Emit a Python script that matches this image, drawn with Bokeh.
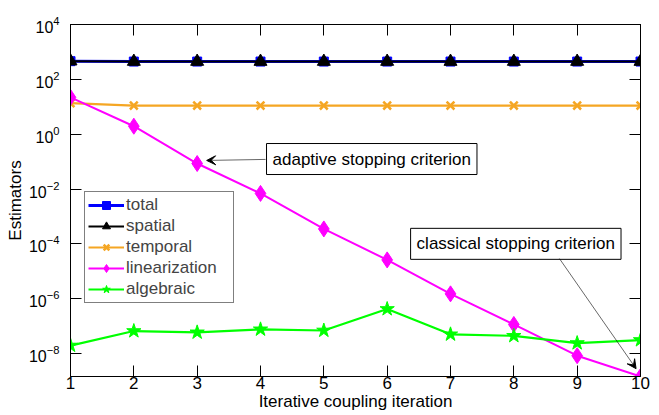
from bokeh.plotting import figure
from bokeh.models import (Range1d, FixedTicker, LinearAxis, LogAxis, Label, Arrow,
                          VeeHead, Legend)
from bokeh.embed import file_html
from bokeh.resources import INLINE

# ---- data ----
iterations = [1, 2, 3, 4, 5, 6, 7, 8, 9, 10]
total = [460, 445, 445, 445, 445, 445, 445, 445, 445, 445]
spatial = [460, 445, 445, 445, 445, 445, 445, 445, 445, 445]
temporal = [13.5, 11, 11, 11, 11, 11, 11, 11, 11, 11]
linearization = [22, 1.95, 0.085, 0.0069, 3.5e-4, 2.6e-5, 1.5e-6, 1.15e-7, 8.3e-9, 1.45e-9]
algebraic = [1.95e-8, 6.6e-8, 5.9e-8, 7.6e-8, 6.9e-8, 4.2e-7, 5.0e-8, 4.4e-8, 2.4e-8, 3.1e-8]
x_ticks = [1, 2, 3, 4, 5, 6, 7, 8, 9, 10]
y_ticks = [1e-8, 1e-6, 1e-4, 1e-2, 1e0, 1e2, 1e4]
x_title = "Iterative coupling iteration"
y_title = "Estimators"

FONT = "Liberation Sans"

p = figure(width=659, height=415, output_backend="svg", toolbar_location=None,
           y_axis_type="log", x_range=Range1d(1, 10), y_range=Range1d(1.45e-9, 1e4),
           min_border_left=70, min_border_right=19, min_border_top=24, min_border_bottom=39)
p.xgrid.visible = False
p.ygrid.visible = False
p.outline_line_color = "black"
p.outline_line_width = 1
p.background_fill_color = "white"

# series
r_total = p.line(iterations, total, color="#0000FF", line_width=3)
m_total = p.scatter(iterations, total, marker="square", size=9, color="#0000FF")
r_sp = p.line(iterations, spatial, color="black", line_width=2)
m_sp = p.scatter(iterations, spatial, marker="triangle", size=13, color="black")
r_te = p.line(iterations, temporal, color="#F5A623", line_width=2.2)
m_te = p.scatter(iterations, temporal, marker="x", size=11, line_color="#F5A623", line_width=2.5)
r_li = p.line(iterations, linearization, color="#FF00FF", line_width=2)
m_li = p.scatter(iterations, linearization, marker="diamond", size=16, color="#FF00FF")
r_al = p.line(iterations, algebraic, color="#00FF00", line_width=2.2)
m_al = p.scatter(iterations, algebraic, marker="star", size=15, color="#00FF00")

legend = Legend(items=[
    ("total", [r_total, m_total]),
    ("spatial", [r_sp, m_sp]),
    ("temporal", [r_te, m_te]),
    ("linearization", [r_li, m_li]),
    ("algebraic", [r_al, m_al]),
], location=(14, 73))
legend.border_line_color = "black"
legend.border_line_width = 1
legend.background_fill_alpha = 1
legend.label_text_font = FONT
legend.label_text_font_size = "17px"
legend.label_height = 20
legend.glyph_height = 20
legend.glyph_width = 36
legend.label_width = 104
legend.spacing = 1
legend.padding = 3
legend.margin = 0
legend.label_standoff = 2
p.add_layout(legend)

# axes
for ax in [p.xaxis[0], p.yaxis[0]]:
    ax.major_tick_in = 11
    ax.major_tick_out = 0
    ax.minor_tick_in = 0
    ax.minor_tick_out = 0
    ax.axis_line_color = "black"
    ax.major_label_text_font = FONT
    ax.axis_label_text_font = FONT
    ax.axis_label_text_font_style = "normal"
    ax.axis_label_text_font_size = "17px"
    ax.major_label_text_color = "black"
    ax.axis_label_text_color = "black"

p.xaxis[0].ticker = FixedTicker(ticks=x_ticks)
p.xaxis[0].major_label_text_font_size = "17px"
p.xaxis[0].major_label_standoff = 0
p.xaxis[0].axis_label = x_title
p.xaxis[0].axis_label_standoff = 0

p.yaxis[0].ticker = FixedTicker(ticks=y_ticks, minor_ticks=[])
p.yaxis[0].major_label_text_font_size = "16px"
p.yaxis[0].major_label_standoff = 11
p.yaxis[0].axis_label = y_title
p.yaxis[0].axis_label_standoff = 1

top = LinearAxis(ticker=FixedTicker(ticks=x_ticks), major_tick_in=11, major_tick_out=0,
                 minor_tick_in=0, minor_tick_out=0, major_label_text_font_size="1px",
                 major_label_text_color=None, major_label_standoff=0, axis_line_color="black")
right = LogAxis(ticker=FixedTicker(ticks=y_ticks, minor_ticks=[]), major_tick_in=11, major_tick_out=0,
                minor_tick_in=0, minor_tick_out=0, major_label_text_font_size="1px",
                major_label_text_color=None, major_label_standoff=0, axis_line_color="black")
p.add_layout(top, "above")
p.add_layout(right, "right")

# annotations
lab1 = Label(x=4.095, y=0.124, text="adaptive stopping criterion", text_font=FONT,
             text_font_size="17px", text_align="left", text_baseline="middle",
             text_color="black",
             background_fill_color="white", border_line_color="black", border_line_width=1,
             padding=6)
p.add_layout(lab1)
p.add_layout(Arrow(end=VeeHead(size=9, fill_color="black", line_color="black"),
                   x_start=4.08, y_start=0.12, x_end=3.15, y_end=0.11,
                   line_color="black", line_width=0.6))

lab2 = Label(x=6.37, y=1.0e-4, text="classical stopping criterion", text_font=FONT,
             text_font_size="17px", text_align="left", text_baseline="middle",
             text_color="black",
             background_fill_color="white", border_line_color="black", border_line_width=1,
             padding=6)
p.add_layout(lab2)
p.add_layout(Arrow(end=VeeHead(size=9, fill_color="black", line_color="black"),
                   x_start=8.72, y_start=2.9e-5, x_end=9.93, y_end=2.8e-9,
                   line_color="black", line_width=0.6))

open("out.html", "w").write(file_html(p, INLINE))
